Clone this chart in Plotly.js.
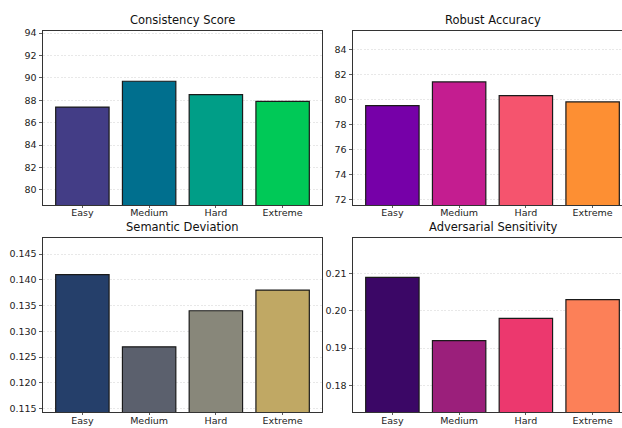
<!DOCTYPE html>
<html>
<head>
<meta charset="utf-8">
<script src="https://cdn.plot.ly/plotly-3.0.1.min.js"></script>
<style>
html, body { margin: 0; padding: 0; overflow: hidden; background: #fff; }
#chart { width: 640px; height: 428px; }
</style>
</head>
<body>
<div id="chart"></div>
<script>
const categories = ["Easy", "Medium", "Hard", "Extreme"];

const consistencyScore = [87.4, 89.7, 88.5, 87.9];
const robustAccuracy = [79.5, 81.4, 80.3, 79.8];
const semanticDeviation = [0.141, 0.127, 0.134, 0.138];
const adversarialSensitivity = [0.209, 0.192, 0.198, 0.203];

const panelTitles = ["Consistency Score", "Robust Accuracy", "Semantic Deviation", "Adversarial Sensitivity"];

const consistencyColors = ["#433d86", "#006f8e", "#009e87", "#00c957"];
const robustColors = ["#7600a8", "#c41d90", "#f5546e", "#fd8f33"];
const semanticColors = ["#253f6a", "#5b606d", "#88877a", "#c0a864"];
const adversarialColors = ["#3b0766", "#9b1f7b", "#ec386e", "#fc8058"];

const W = 640, H = 428;
const font = "DejaVu Sans, sans-serif";

function bar(y, colors, xa, ya) {
  return {
    type: "bar", x: categories, y: y, xaxis: xa, yaxis: ya,
    marker: { color: colors, line: { color: "#1a1a1a", width: 1.2 } },
    hoverinfo: "x+y", showlegend: false
  };
}

const data = [
  bar(consistencyScore, consistencyColors, "x", "y"),
  bar(robustAccuracy, robustColors, "x2", "y2"),
  bar(semanticDeviation, semanticColors, "x3", "y3"),
  bar(adversarialSensitivity, adversarialColors, "x4", "y4")
];

// pixel geometry
const colL = [43, 353], colW = 279;
const rowTop = [31, 238.3], rowH = 174;

function xdom(c) { return [colL[c] / W, (colL[c] + colW) / W]; }
function ydom(r) { return [1 - (rowTop[r] + rowH) / H, 1 - rowTop[r] / H]; }

function xaxis(c, anchor) {
  return {
    domain: xdom(c), anchor: anchor, range: [-0.59, 3.59],
    showline: true, mirror: true, linecolor: "#333", linewidth: 1,
    ticks: "outside", ticklen: 2, tickcolor: "#333", tickwidth: 0.8,
    ticklabelstandoff: -3,
    showgrid: false, zeroline: false,
    tickfont: { family: font, size: 9.5, color: "#222" }
  };
}
function yaxis(r, c, anchor, range, dtick, fmt) {
  return {
    domain: ydom(r), anchor: anchor, range: range, dtick: dtick, tickformat: fmt,
    showline: true, mirror: true, linecolor: "#333", linewidth: 1,
    ticks: "outside", ticklen: 3.5, tickcolor: "#333", tickwidth: 0.8,
    showgrid: true, gridcolor: "#e2e2e2", griddash: "2px,1.5px", gridwidth: 0.8,
    zeroline: false,
    tickfont: { family: font, size: 9.5, color: "#222" }
  };
}

const layout = {
  width: W, height: H,
  margin: { l: 0, r: 0, t: 0, b: 0 },
  paper_bgcolor: "#fff", plot_bgcolor: "#fff",
  font: { family: font },
  bargap: 0.2,
  xaxis: xaxis(0, "y"),
  yaxis: yaxis(0, 0, "x", [78.66, 94.185], 2, "d"),
  xaxis2: xaxis(1, "y2"),
  yaxis2: yaxis(0, 1, "x2", [71.55, 85.47], 2, "d"),
  xaxis3: xaxis(0, "y3"),
  yaxis3: yaxis(1, 0, "x3", [0.1143, 0.14805], 0.005, ".3f"),
  xaxis4: xaxis(1, "y4"),
  yaxis4: yaxis(1, 1, "x4", [0.1728, 0.21945], 0.01, ".2f"),
  annotations: panelTitles.map(function (t, i) {
    const c = i % 2, r = Math.floor(i / 2);
    return {
      text: t, xref: "paper", yref: "paper",
      x: (colL[c] + colW / 2) / W, y: 1 - (rowTop[r] - 2) / H,
      xanchor: "center", yanchor: "bottom", showarrow: false,
      font: { family: font, size: 11.5, color: "#111" }
    };
  })
};

Plotly.newPlot("chart", data, layout, { displayModeBar: false, staticPlot: true });
</script>
</body>
</html>
